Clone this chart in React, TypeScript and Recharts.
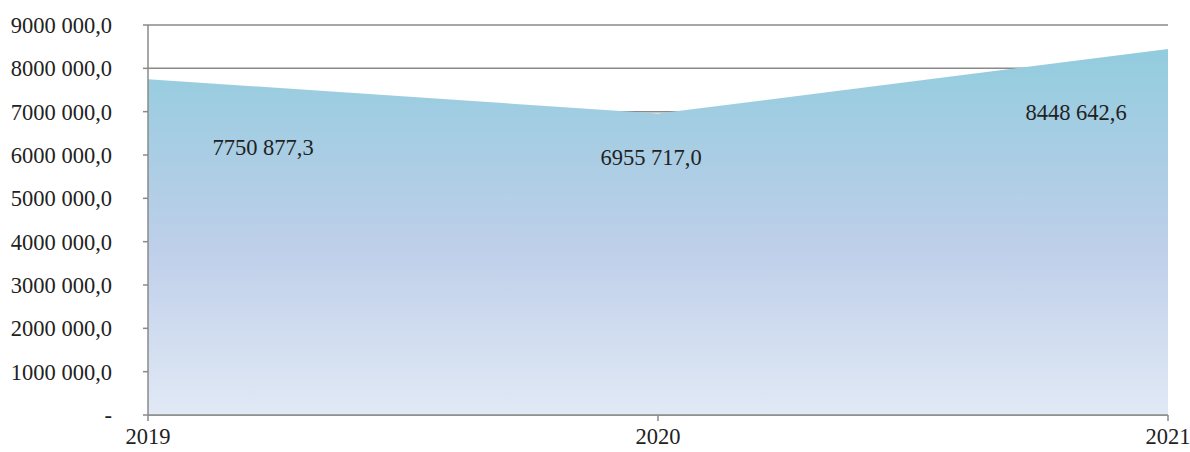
import React from 'react';
import { AreaChart, Area, XAxis, YAxis, CartesianGrid, LabelList } from 'recharts';

const years = ['2019', '2020', '2021'];
const values = [7750877.3, 6955717.0, 8448642.6];
const yTicks = [0, 1000000, 2000000, 3000000, 4000000, 5000000, 6000000, 7000000, 8000000, 9000000];

const data = years.map((year, i) => ({ year, value: values[i] }));

const FONT = '"Liberation Serif", "Times New Roman", serif';
const FS = 22.5;

const fmt = (v: number, decimals = true) => {
  if (v === 0) return '-';
  const whole = Math.floor(v);
  const frac = Math.round((v - whole) * 10);
  const hi = Math.floor(whole / 1000);
  const lo = String(whole % 1000).padStart(3, '0');
  return `${hi} ${lo},${decimals ? frac : 0}`;
};

const labelOffsets = [
  { dx: 115, dy: 68 },
  { dx: -7, dy: 44 },
  { dx: -92, dy: 64 },
];

const CustomLabel = (props: any) => {
  const { x, y, value, index } = props;
  const o = labelOffsets[index] || { dx: 0, dy: 0 };
  return (
    <text
      x={x + o.dx}
      y={y + o.dy}
      textAnchor="middle"
      dominantBaseline="central"
      fontFamily={FONT}
      fontSize={FS}
      fill="#222"
    >
      {fmt(value)}
    </text>
  );
};

export default function App() {
  return (
    <div style={{ position: 'absolute', left: 0, top: 0, background: '#fff' }}>
      <AreaChart
        width={1190}
        height={452}
        data={data}
        margin={{ top: 25, right: 22, left: 0, bottom: 0 }}
      >
        <defs>
          <linearGradient id="areaGrad" x1="0" y1="0" x2="0" y2="1">
            <stop offset="0%" stopColor="#92CCDE" />
            <stop offset="55%" stopColor="#BFCFEA" />
            <stop offset="100%" stopColor="#E1E9F5" />
          </linearGradient>
        </defs>
        <CartesianGrid vertical={false} stroke="#8a8a8a" strokeWidth={1.5} />
        <XAxis
          dataKey="year"
          height={37}
          axisLine={{ stroke: '#8a8a8a', strokeWidth: 1.5 }}
          tickLine={{ stroke: '#8a8a8a', strokeWidth: 1.5 }}
          tickSize={6}
          tickMargin={7}
          tick={{ fontFamily: FONT, fontSize: FS, fill: '#222' }}
          interval={0}
        />
        <YAxis
          width={148}
          domain={[0, 9000000]}
          ticks={yTicks}
          interval={0}
          tickFormatter={(v: number) => fmt(v, false)}
          axisLine={{ stroke: '#8a8a8a', strokeWidth: 1.5 }}
          tickLine={{ stroke: '#8a8a8a', strokeWidth: 1.5 }}
          tickSize={5}
          tickMargin={31}
          tick={{ fontFamily: FONT, fontSize: FS, fill: '#222' }}
        />
        <Area
          type="linear"
          dataKey="value"
          stroke="none"
          fill="url(#areaGrad)"
          fillOpacity={1}
          dot={false}
          activeDot={false}
          isAnimationActive={false}
        >
          <LabelList dataKey="value" content={CustomLabel} />
        </Area>
      </AreaChart>
    </div>
  );
}
